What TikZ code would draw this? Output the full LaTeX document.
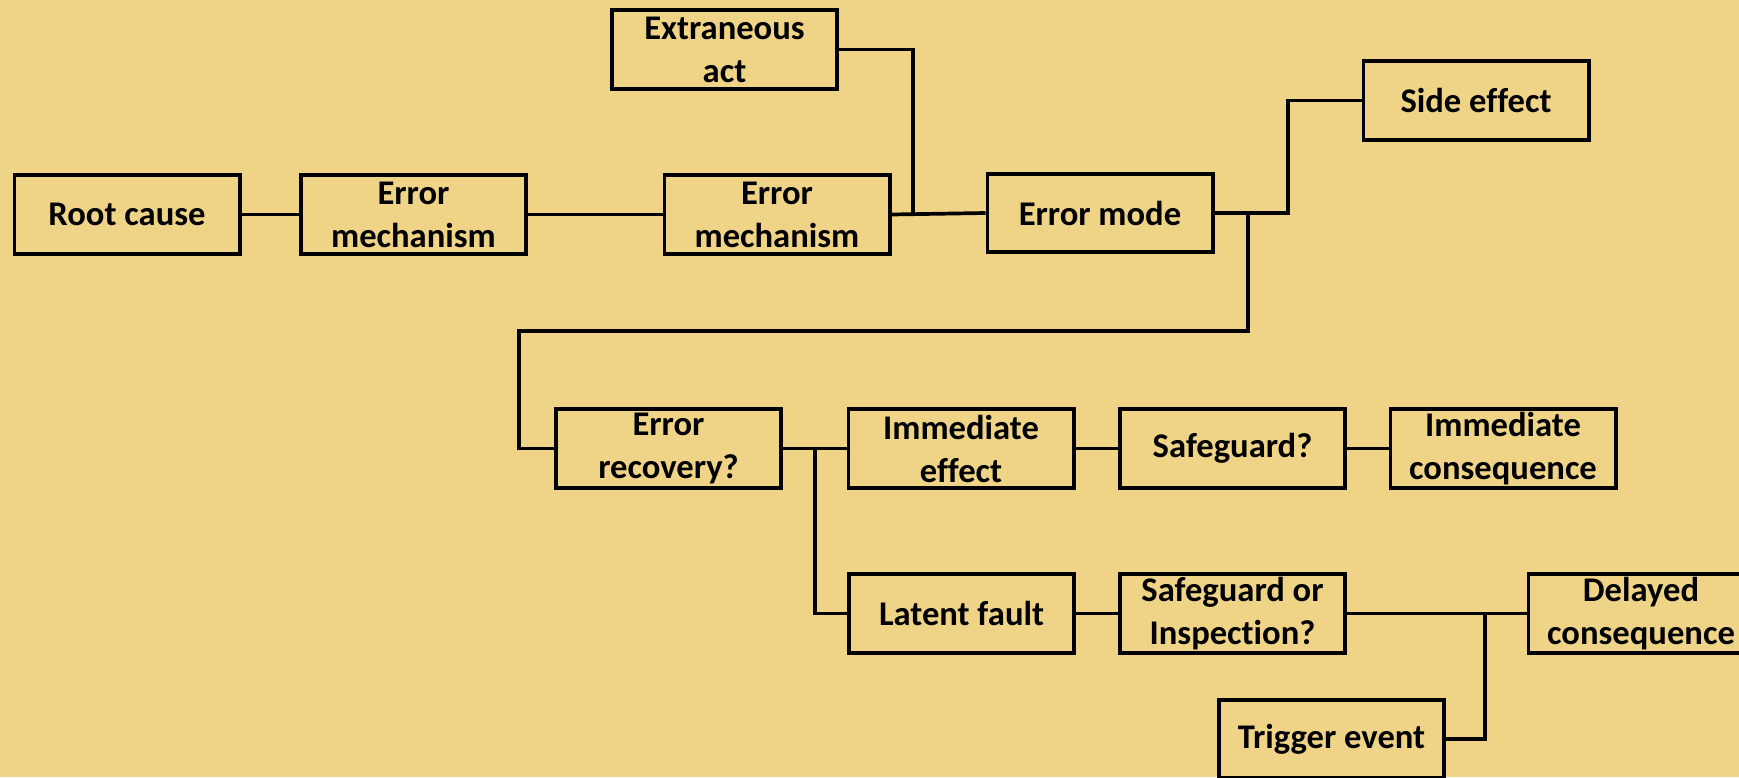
\documentclass[tikz,border=0pt]{standalone}
\usepackage{fontspec}
\setmainfont{Carlito}[Ligatures={NoCommon}]
\definecolor{bg}{RGB}{239,211,134}
\begin{document}
\begin{tikzpicture}[x=0.5pt,y=-0.5pt,
  box/.style={draw=black, line width=1.9pt, minimum width=112.6pt, minimum height=39.2pt,
    inner sep=0pt, align=center, font=\fontsize{17.3pt}{21.5pt}\selectfont\bfseries},
  conn/.style={draw=black, line width=1.85pt}]
\fill[bg] (0,0) rectangle (1739,777);
\useasboundingbox (0,0) rectangle (1739,777);

\node[box] (root)   at (127,214.5)  {Root cause};
\node[box] (em1)    at (413.5,214.5){Error\\mechanism};
\node[box] (em2)    at (777,214.5)  {Error\\mechanism};
\node[box] (extr)   at (724.5,49.5) {Extraneous\\act};
\node[box] (mode)   at (1100,213)   {Error mode};
\node[box] (side)   at (1476,100.5) {Side effect};
\node[box] (rec)    at (668.5,448.5){Error\\recovery?};
\node[box] (imeff)  at (961,448.5)  {Immediate\\effect};
\node[box] (sg)     at (1232.5,448.5){Safeguard?};
\node[box] (imcons) at (1503,448.5) {Immediate\\consequence};
\node[box] (latent) at (961.5,613.5){Latent fault};
\node[box] (soi)    at (1232.5,613.5){Safeguard or\\Inspection?};
\node[box] (delay)  at (1641,613.5) {Delayed\\consequence};
\node[box] (trig)   at (1331.5,739) {Trigger event};

\coordinate (j1) at (913,213);
\coordinate (j2) at (1288,213);
\coordinate (j3) at (1248,213);
\coordinate (j3b) at (1248,331);
\coordinate (j3c) at (519,331);
\coordinate (j4) at (815,448.5);
\coordinate (j5) at (1485,613.5);

\draw[conn] (root.east) -- (em1.west);
\draw[conn] (em1.east) -- (em2.west);
\draw[conn] (em2.east) -- (mode.west);
\draw[conn] (extr.east) -| (j1);
\draw[conn] (mode.east) -- (j2) |- (side.west);
\draw[conn] (j3) -- (j3b) -- (j3c) |- (rec.west);
\draw[conn] (rec.east) -- (imeff.west);
\draw[conn] (j4) |- (latent.west);
\draw[conn] (imeff.east) -- (sg.west);
\draw[conn] (sg.east) -- (imcons.west);
\draw[conn] (latent.east) -- (soi.west);
\draw[conn] (soi.east) -- (delay.west);
\draw[conn] (trig.east) -| (j5);
\end{tikzpicture}
\end{document}
